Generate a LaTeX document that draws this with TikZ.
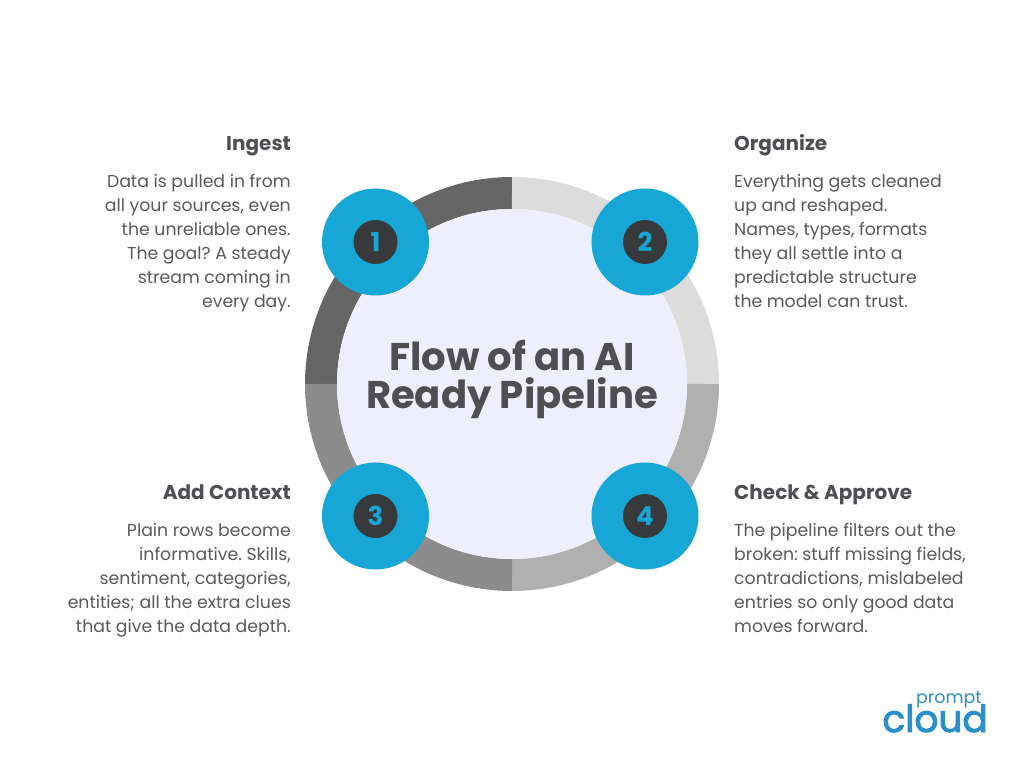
\documentclass[tikz,border=0pt]{standalone}
\usepackage{fontspec}
\setmainfont{Poppins}
\newfontfamily\logofont[FakeBold=2.5]{Poppins}
\frenchspacing
\definecolor{badgeblue}{HTML}{17A7D6}
\definecolor{badgedark}{HTML}{38393B}
\definecolor{hubfill}{HTML}{EEEEFD}
\definecolor{headtext}{HTML}{4F4F53}
\definecolor{bodytext}{HTML}{5A5A5A}
\definecolor{logoblue}{HTML}{2B8FCB}
\definecolor{segone}{HTML}{666666}
\definecolor{segtwo}{HTML}{DCDCDC}
\definecolor{segthree}{HTML}{8C8C8C}
\definecolor{segfour}{HTML}{B0B0B0}
\tikzset{
  ringseg/.style = {line width=32pt},
  heading/.style = {inner sep=0pt, text=headtext, font=\fontsize{20}{24}\selectfont\bfseries},
  bodyleft/.style = {inner sep=0pt, anchor=north east, align=right, text=bodytext, font=\fontsize{17.3}{24}\selectfont},
  bodyright/.style = {inner sep=0pt, anchor=north west, align=left, text=bodytext, font=\fontsize{17.3}{24}\selectfont},
  badge/.style = {shape=circle, fill=badgeblue, minimum size=107pt, inner sep=0pt},
  badgenum/.style = {shape=circle, fill=badgedark, minimum size=44pt, inner sep=0pt,
    text=badgeblue, font=\fontsize{26}{26}\selectfont\bfseries},
}
\begin{document}
\begin{tikzpicture}[x=1pt, y=1pt]
  \useasboundingbox (0,0) rectangle (1024,768);
  \coordinate (hub) at (512,384);
  % ring
  \foreach \from/\to/\col in {180/90/segone, 90/0/segtwo, 0/-90/segfour, -90/-180/segthree}
    \draw[ringseg, \col] (hub) ++(\from:191) arc (\from:\to:191);
  \node[shape=circle, fill=hubfill, minimum size=350pt, inner sep=0pt] (centre) at (hub) {};
  \node[align=center, inner sep=0pt, text=headtext, font=\fontsize{38.6}{38}\selectfont\bfseries] (title) at (512,388)
    {Flow of an AI\\Ready Pipeline};
  % badges
  \foreach \name/\xpos/\ypos/\num in {one/375.5/526/1, two/645/526/2, three/375.5/252/3, four/645/252/4} {
    \node[badge] (\name) at (\xpos,\ypos) {};
    \node[badgenum] (num\name) at (\name) {\num};
  }
  % left column
  \node[heading, anchor=base east] (ingest) at (291,617) {Ingest};
  \node[bodyleft] (ingesttext) at (291,594) {Data is pulled in from\\all your sources, even\\the unreliable ones.\\The goal? A steady\\stream coming in\\every day.};
  \node[heading, anchor=base east] (context) at (291,268) {Add Context};
  \node[bodyleft] (contexttext) at (291,245) {Plain rows become\\informative. Skills,\\sentiment, categories,\\entities; all the extra clues\\that give the data depth.};
  % right column
  \node[heading, anchor=base west] (organize) at (734,617) {Organize};
  \node[bodyright] (organizetext) at (734,594) {Everything gets cleaned\\up and reshaped.\\Names, types, formats\\they all settle into a\\predictable structure\\the model can trust.};
  \node[heading, anchor=base west] (check) at (734,268) {Check \& Approve};
  \node[bodyright] (checktext) at (734,245) {The pipeline filters out the\\broken: stuff missing fields,\\contradictions, mislabeled\\entries so only good data\\moves forward.};
  % logo
  \node[inner sep=0pt, anchor=base east, text=logoblue, font=\fontsize{37.5}{38}\selectfont\logofont] (cloud) at (988,36) {cloud};
  \node[inner sep=0pt, anchor=base east, text=logoblue, font=\fontsize{17.5}{18}\selectfont] (prompt) at (982,65) {prompt};
\end{tikzpicture}
\end{document}
